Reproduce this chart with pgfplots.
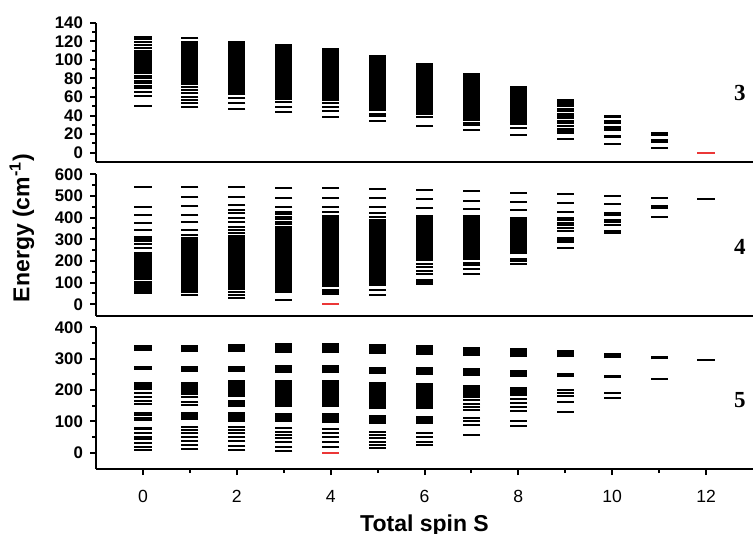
\documentclass[border=0pt]{standalone}
\usepackage{pgfplots}
\pgfplotsset{compat=1.18}
\usepackage{pgfplotstable}
\usepackage{fontspec}
\setmainfont{Liberation Sans}
\newfontfamily\panelfont{Liberation Serif}
\definecolor{gsred}{RGB}{235,55,55}

% panel 3: single levels (S E) and dense bands (S lo hi)
\pgfplotstableread{
S E
0 124.2
0 122
0 119.5
0 115.6
0 112.4
0 82.6
0 80
0 77.5
0 74.7
0 71.8
0 69.3
0 65.7
0 61
0 50.3
1 123
1 70.4
1 67.5
1 63.9
1 60.3
1 56.7
1 53.1
1 48.8
2 62.8
2 58.5
2 53.1
2 47
3 55
3 49.5
3 43.5
4 53
4 48.8
4 44.9
4 38.8
5 42
5 39.5
5 34.5
6 38.8
6 28.7
7 31.6
7 29.8
7 24.4
8 27
8 19
9 57
9 55
9 52
9 50
9 47
9 45
9 42
9 39.5
9 37
9 34.5
9 32
9 29
9 26
9 23
9 21
9 14.4
10 40
10 38
10 34
10 32
10 28
10 26
10 24.5
10 18.5
10 16.5
10 9.3
11 21.5
11 19.5
11 13.5
11 12
11 4.7
}\levA
\pgfplotstableread{
S lo hi
0 85 110.5
1 73 120.5
2 64 120.6
3 57 117.5
4 56 112.4
5 44.5 105
6 41 97
7 34.5 85.4
8 30 72.2
}\blkA

% panel 4
\pgfplotstableread{
S E
0 543
0 451
0 412
0 374
0 343
0 312
0 302
0 290
0 277
0 262
0 172
0 165
0 158
0 148
0 140
0 132
0 124
0 116
0 105
0 97
0 90
0 82
0 71
0 62
0 51
1 543
1 494
1 455
1 412
1 378
1 343
1 318
1 43
2 543
2 494
2 458
2 435
2 420
2 397
2 381
2 358
2 343
2 328
2 55
2 43
2 31
3 538
3 492
3 451
3 428
3 418
3 405
3 395
3 382
3 370
4 535
4 489
4 451
4 428
4 66
4 55
4 46
5 532
5 489
5 448
5 420
5 405
5 66
5 43
6 528
6 484
6 443
6 185
6 170
6 155
6 140
6 110
6 101
6 92
7 523
7 478
7 438
7 190
7 180
7 163
7 138
8 515
8 474
8 435
8 210
8 200
8 188
9 509
9 466
9 428
9 400
9 390
9 375
9 366
9 352
9 340
9 308
9 297
9 286
9 258
10 501
10 461
10 423
10 412
10 389
10 378
10 366
10 340
10 328
11 492
11 454
11 446
11 401
12 485
}\levB
\pgfplotstableread{
S lo hi
0 178 240
1 50 310
2 66 320
3 51 360
3 15 25
4 82 412
5 86 395
6 200 412
7 205 410
8 230 405
}\blkB

% panel 5
\pgfplotstableread{
S E
0 192
0 178
0 165
0 155
0 128
0 120
0 110
0 103
0 80
0 74
0 62
0 51
0 43
0 30
0 18
0 9
1 177
1 163
1 152
1 81
1 72
1 62
1 51
1 38
1 24
1 11
2 81
2 72
2 62
2 51
2 38
2 21
2 8
3 78
3 67
3 56
3 46
3 35
3 19
3 5
4 74
4 62
4 49
4 35
4 19
5 67
5 56
5 46
5 35
5 24
5 14
6 62
6 51
6 35
6 24
7 168
7 155
7 146
7 136
7 110
7 102
7 88
7 56
8 171
8 160
8 147
8 134
8 102
8 85
9 200
9 191
9 181
9 163
9 131
10 191
10 173
11 234
12 296
}\levC
\pgfplotstableread{
S lo hi
0 324 344
0 264 276
0 200 227
1 320 343
1 258 277
1 184 227
1 104 131
2 320 347
2 258 277
2 179 232
2 145 168
2 99 131
3 319 349
3 255 280
3 145 232
3 99 128
4 317 351
4 253 280
4 145 232
4 94 126
5 315 347
5 251 274
5 138 227
5 91 120
6 312 344
6 248 274
6 138 221
6 91 117
7 308 338
7 245 269
7 173 216
8 304 333
8 243 264
8 181 211
9 304 326
9 240 255
10 301 319
10 237 248
11 298 309
}\blkC

\pgfplotsset{
  panel/.style={
    scale only axis, width=328.5pt,
    xmin=-1, xmax=13,
    axis lines*=left,
    axis line style={line width=1.1pt},
    tick align=outside,
    tick style={line width=1pt, black},
    major tick length=3pt, minor tick length=2pt,
    minor y tick num=1,
    y tick label style={font=\fontsize{8.4}{9}\selectfont\bfseries},
    /pgf/number format/assume math mode=true,
    clip=false,
  },
  lvl/.style={only marks, mark=-, mark size=4.3pt, black,
    mark options={line width=1pt}},
  blk/.style={draw=none, mark=none,
    error bars/.cd, y dir=plus, y explicit, error mark=none,
    error bar style={draw=black, line width=8.6pt}},
}

\begin{document}
\begin{tikzpicture}
\useasboundingbox (0,0) rectangle (376.5pt,267pt);

\begin{axis}[panel, at={(48pt,186pt)}, anchor=south west, height=69.65pt,
  ymin=-10, ymax=140, ytick={0,20,...,140}, xtick=\empty]
\addplot[blk] table[x=S, y=lo, y error plus expr=\thisrow{hi}-\thisrow{lo}] {\blkA};
\addplot[lvl] table[x=S, y=E] {\levA};
\addplot[lvl, gsred] coordinates {(12,0)};
\node[font=\panelfont\fontsize{11.5}{13}\selectfont\bfseries] at (axis description cs:0.98,0.495) {3};
\end{axis}

\begin{axis}[panel, at={(48pt,109.15pt)}, anchor=south west, height=70.7pt,
  ymin=-52.6, ymax=600, ytick={0,100,...,600}, xtick=\empty]
\addplot[blk] table[x=S, y=lo, y error plus expr=\thisrow{hi}-\thisrow{lo}] {\blkB};
\addplot[lvl] table[x=S, y=E] {\levB};
\addplot[lvl, gsred] coordinates {(4,0)};
\node[font=\panelfont\fontsize{11.5}{13}\selectfont\bfseries] at (axis description cs:0.98,0.489) {4};
\end{axis}

\begin{axis}[panel, at={(48pt,32.5pt)}, anchor=south west, height=70.85pt,
  ymin=-52, ymax=400, ytick={0,100,...,400},
  xtick={0,2,...,12}, minor xtick={1,3,...,11},
  x tick label style={font=\fontsize{8.8}{10}\selectfont, yshift=-4pt},
  xlabel={Total spin S},
  xlabel style={font=\fontsize{11.5}{13}\selectfont\bfseries, yshift=0.5pt}]
\addplot[blk] table[x=S, y=lo, y error plus expr=\thisrow{hi}-\thisrow{lo}] {\blkC};
\addplot[lvl] table[x=S, y=E] {\levC};
\addplot[lvl, gsred] coordinates {(4,0)};
\node[font=\panelfont\fontsize{11.5}{13}\selectfont\bfseries] at (axis description cs:0.98,0.487) {5};
\end{axis}

\node[rotate=90, font=\fontsize{11.5}{13}\selectfont\bfseries] at (11pt,153pt) {Energy (cm\textsuperscript{-1})};
\end{tikzpicture}
\end{document}
